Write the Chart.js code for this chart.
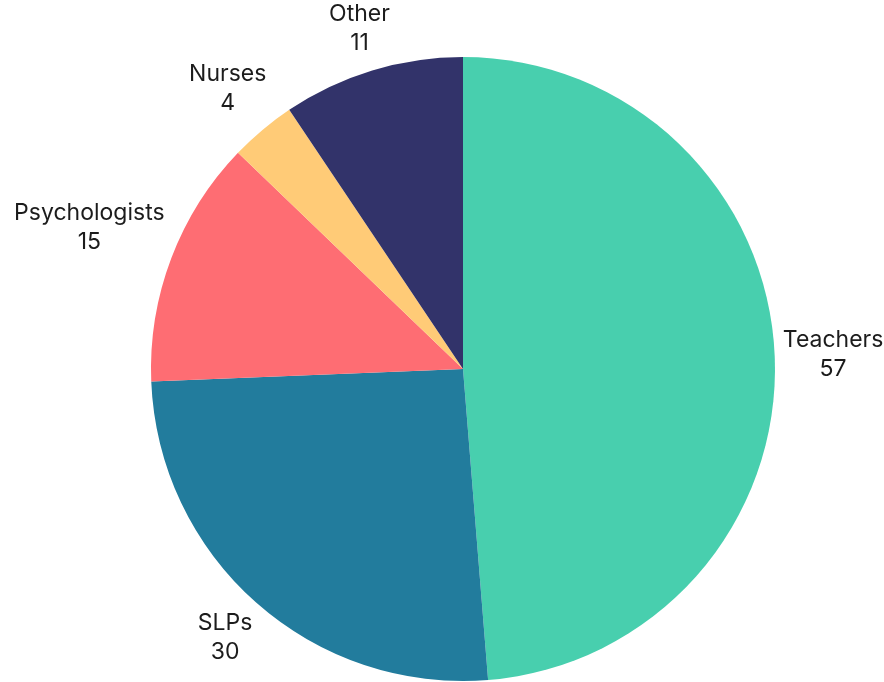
<!DOCTYPE html>
<html><head><meta charset="utf-8">
<script src="https://cdn.jsdelivr.net/npm/chart.js@4"></script>
<style>html,body{margin:0;padding:0;background:#fff}#wrap{width:884px;height:682px}</style>
</head><body><div id="wrap"><canvas id="c"></canvas></div>
<script>
const categories = ["Teachers", "SLPs", "Psychologists", "Nurses", "Other"];
const counts = [57, 30, 15, 4, 11];
const sliceColors = ["#48CFAE", "#227C9D", "#FE6D73", "#FFCB77", "#32336A"];

const FONT = '400 23px Inter, "DejaVu Sans", sans-serif';
const LINE_H = 29;
const GAP = 7;

const outsideLabels = {
  id: 'outsideLabels',
  afterDatasetsDraw(chart) {
    const ctx = chart.ctx;
    const meta = chart.getDatasetMeta(0);
    ctx.save();
    ctx.font = FONT;
    ctx.fillStyle = '#1c1c1c';
    ctx.textAlign = 'center';
    ctx.textBaseline = 'middle';
    meta.data.forEach((arc, i) => {
      const p = arc.getProps(['x','y','startAngle','endAngle','outerRadius'], true);
      const mid = (p.startAngle + p.endAngle) / 2;
      const vx = Math.cos(mid), vy = Math.sin(mid);
      const lines = [categories[i], String(counts[i])];
      const w = Math.max(...lines.map(l => ctx.measureText(l).width));
      const h = LINE_H * lines.length;
      const d = p.outerRadius + GAP + Math.abs(w / 2 * vx) + Math.abs(h / 2 * vy);
      const cx = p.x + vx * d, cy = p.y + vy * d;
      lines.forEach((l, k) => {
        ctx.fillText(l, cx, cy + (k - (lines.length - 1) / 2) * LINE_H);
      });
    });
    ctx.restore();
  }
};

new Chart(document.getElementById('c'), {
  type: 'pie',
  data: {
    labels: categories,
    datasets: [{ data: counts, backgroundColor: sliceColors, borderWidth: 0 }]
  },
  options: {
    responsive: true,
    maintainAspectRatio: false,
    animation: false,
    layout: { padding: { left: 151, right: 109, top: 57, bottom: 1 } },
    plugins: { legend: { display: false }, tooltip: { enabled: false } }
  },
  plugins: [outsideLabels]
});
</script>
</body></html>
